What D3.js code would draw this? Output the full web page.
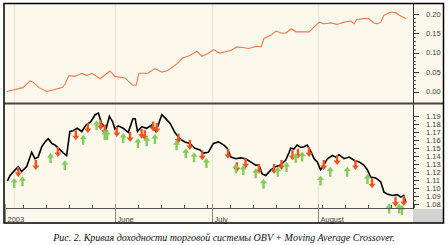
<!DOCTYPE html>
<html>
<head>
<meta charset="utf-8">
<script src="https://cdn.jsdelivr.net/npm/d3@7"></script>
<style>
  body { margin: 0; background: #fff; }
  svg { display: block; }
</style>
</head>
<body>
<svg id="chart" width="448" height="245"></svg>
<script>
// trading-day index (weekdays since start) for every series
const equityDay = [0.4, 1.7, 3.9, 5.4, 6.1, 7.4, 9.1, 10.4, 12.4, 13.0, 13.9, 15.2, 16.7, 17.8, 18.9, 20.7, 22.8, 23.9, 26.1, 26.7, 27.8, 28.5, 29.1, 31.1, 32.6, 34.1, 35.4, 37.4, 38.7, 40.2, 41.7, 42.8, 44.1, 45.4, 46.7, 49.1, 50.4, 52.0, 53.0, 54.8, 55.7, 56.3, 57.8, 58.9, 60.0, 61.1, 62.2, 63.3, 64.6, 66.1, 67.2, 68.3, 69.3, 70.9, 72.2, 73.7, 75.2, 75.9, 76.5, 78.0, 79.1, 80.2, 80.9, 81.7, 82.4, 83.9, 85.0, 85.7, 87.2];
const equityVal = [0.000, 0.004, 0.010, 0.027, 0.024, 0.010, 0.000, 0.004, 0.010, 0.018, 0.041, 0.039, 0.047, 0.041, 0.047, 0.033, 0.053, 0.039, 0.035, 0.028, 0.016, 0.016, 0.047, 0.047, 0.059, 0.050, 0.054, 0.072, 0.087, 0.093, 0.104, 0.091, 0.098, 0.108, 0.099, 0.106, 0.115, 0.113, 0.111, 0.117, 0.115, 0.137, 0.145, 0.156, 0.151, 0.151, 0.162, 0.154, 0.154, 0.154, 0.166, 0.179, 0.175, 0.177, 0.173, 0.179, 0.182, 0.175, 0.186, 0.188, 0.188, 0.177, 0.175, 0.179, 0.197, 0.205, 0.203, 0.197, 0.188];

const priceDay = [0.5, 1.1, 2.2, 2.9, 3.6, 4.7, 5.8, 6.5, 7.2, 8.0, 8.7, 9.4, 10.2, 10.9, 12.0, 12.7, 13.4, 14.1, 14.8, 15.7, 16.7, 17.6, 18.6, 19.6, 20.3, 21.0, 22.0, 22.7, 23.4, 23.9, 24.6, 25.7, 26.8, 27.8, 28.3, 28.8, 29.7, 30.8, 31.9, 32.8, 34.1, 34.8, 35.9, 37.0, 38.0, 39.1, 40.2, 41.3, 42.4, 43.1, 44.2, 45.3, 46.4, 47.6, 48.3, 49.1, 50.2, 51.2, 52.3, 53.4, 54.5, 55.2, 55.9, 56.7, 57.8, 58.8, 59.9, 61.0, 61.7, 62.1, 62.8, 63.5, 64.3, 65.0, 65.7, 66.5, 67.2, 67.9, 68.6, 69.3, 70.1, 71.2, 71.9, 72.6, 73.7, 74.8, 75.9, 77.0, 78.0, 78.8, 79.5, 80.6, 81.7, 82.4, 83.1, 84.2, 85.3, 86.0, 86.7, 87.1];
const priceVal = [1.109, 1.116, 1.123, 1.127, 1.121, 1.127, 1.145, 1.137, 1.139, 1.152, 1.158, 1.162, 1.156, 1.154, 1.148, 1.144, 1.141, 1.171, 1.172, 1.175, 1.171, 1.179, 1.183, 1.192, 1.194, 1.181, 1.175, 1.190, 1.183, 1.174, 1.178, 1.175, 1.170, 1.187, 1.187, 1.171, 1.177, 1.175, 1.179, 1.171, 1.192, 1.188, 1.181, 1.169, 1.162, 1.158, 1.156, 1.150, 1.148, 1.144, 1.145, 1.156, 1.158, 1.154, 1.150, 1.139, 1.137, 1.138, 1.137, 1.133, 1.129, 1.129, 1.118, 1.116, 1.123, 1.127, 1.129, 1.135, 1.144, 1.150, 1.149, 1.154, 1.151, 1.152, 1.154, 1.146, 1.137, 1.133, 1.123, 1.129, 1.137, 1.141, 1.139, 1.142, 1.137, 1.139, 1.135, 1.133, 1.129, 1.123, 1.114, 1.113, 1.108, 1.095, 1.093, 1.091, 1.092, 1.089, 1.091, 1.083];

// buy signals (green, up) - price at arrow tip
const buyDay = [2.0, 3.8, 9.9, 13.0, 17.0, 19.9, 21.7, 22.2, 25.7, 28.9, 30.8, 32.6, 37.3, 39.3, 41.1, 43.8, 50.2, 51.8, 54.5, 56.2, 59.3, 61.2, 63.2, 64.6, 68.6, 70.7, 74.4, 78.8, 83.5, 85.7, 86.3];
const buyPrice = [1.113, 1.115, 1.144, 1.135, 1.167, 1.185, 1.173, 1.173, 1.169, 1.163, 1.165, 1.168, 1.160, 1.150, 1.145, 1.138, 1.131, 1.129, 1.125, 1.112, 1.127, 1.133, 1.144, 1.146, 1.116, 1.127, 1.127, 1.118, 1.081, 1.081, 1.079];

// sell signals (red, down) - price at arrow tip
const sellDay = [2.9, 6.7, 11.5, 15.4, 18.0, 20.8, 21.7, 24.3, 27.2, 29.7, 30.4, 32.2, 33.0, 37.7, 40.2, 42.9, 48.5, 50.4, 52.3, 55.2, 58.5, 60.1, 62.5, 63.7, 66.1, 69.3, 72.2, 76.2, 79.8, 84.9, 86.7];
const sellPrice = [1.114, 1.123, 1.139, 1.160, 1.169, 1.173, 1.167, 1.164, 1.158, 1.162, 1.160, 1.171, 1.169, 1.156, 1.148, 1.135, 1.137, 1.120, 1.125, 1.118, 1.118, 1.123, 1.135, 1.137, 1.139, 1.123, 1.129, 1.123, 1.100, 1.077, 1.078];

const monthLabels = ["2003", "June", "July", "August"];
const monthDates = ["2003-04-29", "2003-06-02", "2003-07-01", "2003-08-01"];
const gridDates = ["2003-05-01", "2003-06-02", "2003-07-01", "2003-08-01"];
const equityTicks = [0.00, 0.05, 0.10, 0.15, 0.20];
const priceTicks = [1.08, 1.09, 1.10, 1.11, 1.12, 1.13, 1.14, 1.15, 1.16, 1.17, 1.18, 1.19];
const caption = "Рис. 2. Кривая доходности торговой системы OBV + Moving Average Crossover.";

const parse = d3.timeParse("%Y-%m-%d");
const start = parse("2003-04-29");
const tradeIdx = (date) => {
  let n = 0;
  for (let d = new Date(start); d < date; d.setDate(d.getDate() + 1))
    if (d.getDay() % 6 !== 0) n++;
  return n;
};

const svg = d3.select("#chart");
const left = 5, right = 413, frameR = 443.5;
const bg = "#fdf8ec";

const x = d3.scaleLinear().domain([0, 88.7]).range([left, right]);
const yTop = d3.scaleLinear().domain([0, 0.2]).range([91.5, 14]);
const yBot = d3.scaleLinear().domain([1.08, 1.19]).range([204.3, 116.3]);

// backgrounds
svg.append("rect").attr("x", 4).attr("y", 3).attr("width", frameR - 4).attr("height", 220).attr("fill", bg);
svg.append("rect").attr("x", right).attr("y", 209).attr("width", frameR - right).attr("height", 14).attr("fill", "#d2d2d2");

// faint month grid lines
gridDates.forEach((s) => {
  const gx = Math.round(x(tradeIdx(parse(s)))) + 0.5;
  [[4, 103], [104, 208]].forEach(([a, b]) =>
    svg.append("line").attr("x1", gx).attr("x2", gx).attr("y1", a).attr("y2", b)
      .attr("stroke", "#efe9dc").attr("stroke-width", 1.5));
});

// equity curve
const eqData = equityDay.map((d, i) => [d, equityVal[i]]);
svg.append("path").datum(eqData)
  .attr("fill", "none").attr("stroke", "#f07a48").attr("stroke-width", 1.1)
  .attr("d", d3.line().x((d) => x(d[0])).y((d) => yTop(d[1])));

// price line
const prData = priceDay.map((d, i) => [d, priceVal[i]]);
svg.append("path").datum(prData)
  .attr("fill", "none").attr("stroke", "#000").attr("stroke-width", 1.6)
  .attr("d", d3.line().x((d) => x(d[0])).y((d) => yBot(d[1])));

// arrows
const upArrow = "M0,0L3.5,4.5L1.2,4.5L1.2,10L-1.2,10L-1.2,4.5L-3.5,4.5Z";
const downArrow = "M0,0L3.5,-4.5L1.2,-4.5L1.2,-10L-1.2,-10L-1.2,-4.5L-3.5,-4.5Z";
svg.selectAll(".sell").data(sellDay).enter().append("path")
  .attr("class", "sell")
  .attr("d", downArrow)
  .attr("transform", (d, i) => `translate(${x(d)},${yBot(sellPrice[i])})`)
  .attr("fill", "#ec5420");
svg.selectAll(".buy").data(buyDay).enter().append("path")
  .attr("class", "buy")
  .attr("d", upArrow)
  .attr("transform", (d, i) => `translate(${x(d)},${yBot(buyPrice[i])})`)
  .attr("fill", "#86cc5a");

// right axes
const axisFont = "Liberation Sans, Arial, sans-serif";
function rightAxis(scale, ticks, minorStep, fmt, y0, y1) {
  const g = svg.append("g");
  g.append("line").attr("x1", right + 0.5).attr("x2", right + 0.5).attr("y1", y0).attr("y2", y1).attr("stroke", "#333");
  const [lo, hi] = scale.domain();
  const minors = d3.range(Math.round((hi - lo) / minorStep) + 1).map((k) => lo + k * minorStep);
  g.selectAll(".mn").data(minors).enter().append("line")
    .attr("x1", right).attr("x2", right + 3)
    .attr("y1", (d) => Math.round(scale(d)) + 0.5).attr("y2", (d) => Math.round(scale(d)) + 0.5)
    .attr("stroke", "#555");
  g.selectAll(".mj").data(ticks).enter().append("line")
    .attr("x1", right).attr("x2", right + 6)
    .attr("y1", (d) => Math.round(scale(d)) + 0.5).attr("y2", (d) => Math.round(scale(d)) + 0.5)
    .attr("stroke", "#333");
  g.selectAll("text").data(ticks).enter().append("text")
    .attr("x", 426).attr("y", (d) => scale(d) + 2.6)
    .attr("font-family", axisFont).attr("font-size", 7.5).attr("fill", "#444")
    .text(fmt);
}
rightAxis(yTop, equityTicks, 0.01, d3.format(".2f"), 3, 103);
rightAxis(yBot, priceTicks, 0.005, d3.format(".2f"), 104, 209);

// bottom time axis
svg.append("line").attr("x1", left).attr("x2", right).attr("y1", 208.5).attr("y2", 208.5).attr("stroke", "#555").attr("stroke-width", 1.2);
const mondays = d3.timeMonday.range(parse("2003-05-05"), parse("2003-09-02"));
svg.selectAll(".wk").data(mondays).enter().append("line")
  .attr("x1", (d) => Math.round(x(tradeIdx(d))) + 0.5).attr("x2", (d) => Math.round(x(tradeIdx(d))) + 0.5)
  .attr("y1", 205).attr("y2", 208).attr("stroke", "#555");
monthDates.forEach((s, i) => {
  const mx = Math.round(x(tradeIdx(parse(s)))) + 0.5;
  svg.append("line").attr("x1", mx).attr("x2", mx).attr("y1", 204).attr("y2", 223).attr("stroke", "#888");
  svg.append("text").attr("x", mx + 2).attr("y", 221.5)
    .attr("font-family", axisFont).attr("font-size", 7.5).attr("fill", "#444")
    .text(monthLabels[i]);
});

// panel separator and frame
svg.append("line").attr("x1", 4).attr("x2", frameR).attr("y1", 103.5).attr("y2", 103.5).attr("stroke", "#444").attr("stroke-width", 2);
svg.append("rect").attr("x", 4).attr("y", 3.5).attr("width", frameR - 4).attr("height", 219.5)
  .attr("fill", "none").attr("stroke", "#000").attr("stroke-width", 1.5);

// caption
svg.append("text").attr("x", 224).attr("y", 241).attr("text-anchor", "middle")
  .attr("font-family", "Liberation Serif, Times New Roman, serif").attr("font-style", "italic")
  .attr("font-size", 10).attr("fill", "#111").text(caption);
</script>
</body>
</html>
